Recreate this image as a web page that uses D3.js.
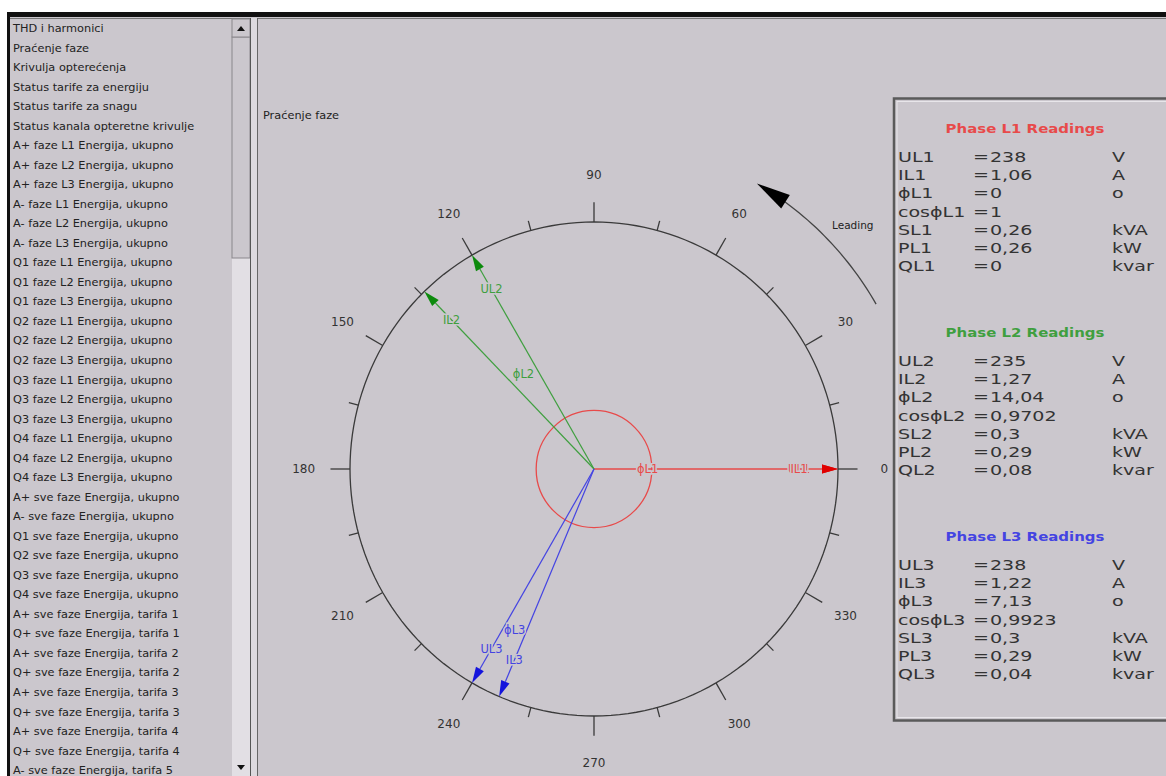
<!DOCTYPE html>
<html>
<head>
<meta charset="utf-8">
<script src="https://cdn.jsdelivr.net/npm/d3@7"></script>
<style>
  body { margin: 0; background: #fff; }
  svg { display: block; }
</style>
</head>
<body>
<svg id="chart" width="1166" height="776"></svg>
<script>
// menu on the left
var menuItems = [
  "THD i harmonici", "Praćenje faze", "Krivulja opterećenja",
  "Status tarife za energiju", "Status tarife za snagu", "Status kanala opteretne krivulje",
  "A+ faze L1 Energija, ukupno", "A+ faze L2 Energija, ukupno", "A+ faze L3 Energija, ukupno",
  "A- faze L1 Energija, ukupno", "A- faze L2 Energija, ukupno", "A- faze L3 Energija, ukupno",
  "Q1 faze L1 Energija, ukupno", "Q1 faze L2 Energija, ukupno", "Q1 faze L3 Energija, ukupno",
  "Q2 faze L1 Energija, ukupno", "Q2 faze L2 Energija, ukupno", "Q2 faze L3 Energija, ukupno",
  "Q3 faze L1 Energija, ukupno", "Q3 faze L2 Energija, ukupno", "Q3 faze L3 Energija, ukupno",
  "Q4 faze L1 Energija, ukupno", "Q4 faze L2 Energija, ukupno", "Q4 faze L3 Energija, ukupno",
  "A+ sve faze Energija, ukupno", "A- sve faze Energija, ukupno",
  "Q1 sve faze Energija, ukupno", "Q2 sve faze Energija, ukupno",
  "Q3 sve faze Energija, ukupno", "Q4 sve faze Energija, ukupno",
  "A+ sve faze Energija, tarifa 1", "Q+ sve faze Energija, tarifa 1",
  "A+ sve faze Energija, tarifa 2", "Q+ sve faze Energija, tarifa 2",
  "A+ sve faze Energija, tarifa 3", "Q+ sve faze Energija, tarifa 3",
  "A+ sve faze Energija, tarifa 4", "Q+ sve faze Energija, tarifa 4",
  "A- sve faze Energija, tarifa 5"
];

// phasor data
var phases = ["L1", "L2", "L3"];
var voltageAngle = [0, 120, 240];
var phiAngle = [0, 14.04, 7.13];
var voltage = [238, 235, 238];
var current = [1.06, 1.27, 1.22];
var cosPhi = [1, 0.9702, 0.9923];
var apparentPower = [0.26, 0.3, 0.3];
var activePower = [0.26, 0.29, 0.29];
var reactivePower = [0, 0.08, 0.04];
var angleLabels = [0, 30, 60, 90, 120, 150, 180, 210, 240, 270, 300, 330];

var phaseColor = ["#e84a4a", "#3f9f3f", "#4444e2"];
var headColor = ["#e00000", "#0c8a0c", "#1414dc"];
var bg = "#cbc7cd";

var svg = d3.select("#chart");
var fmt = function(v) { return String(v).replace(".", ","); };

// ---- window frame ----
svg.append("rect").attr("x", 0).attr("y", 0).attr("width", 1166).attr("height", 776).attr("fill", "#fff");
svg.append("rect").attr("x", 8).attr("y", 12).attr("width", 1158).attr("height", 764).attr("fill", bg);
svg.append("rect").attr("x", 7).attr("y", 12).attr("width", 1159).attr("height", 5).attr("fill", "#111");
svg.append("rect").attr("x", 7).attr("y", 12).attr("width", 3).attr("height", 764).attr("fill", "#111");
svg.append("line").attr("x1", 10).attr("x2", 1166).attr("y1", 18.5).attr("y2", 18.5).attr("stroke", "#777");

// list box
var menu = svg.append("g");
menu.selectAll("text").data(menuItems).enter().append("text")
  .attr("transform", function(d, i) { return "translate(13," + (32 + i * 19.53) + ") scale(1.1,1)"; })
  .style("font-family", "DejaVu Sans, sans-serif")
  .style("font-size", "10.3px")
  .attr("fill", "#222")
  .text(function(d) { return d; });

// scrollbar
svg.append("rect").attr("x", 232).attr("y", 19).attr("width", 18).attr("height", 757).attr("fill", "#e2dfe4");
svg.append("rect").attr("x", 232).attr("y", 37).attr("width", 18).attr("height", 221).attr("fill", bg)
  .attr("stroke", "#8a878c");
svg.append("rect").attr("x", 232).attr("y", 19).attr("width", 18).attr("height", 18).attr("fill", bg)
  .attr("stroke", "#8a878c");
svg.append("path").attr("d", "M237,31 L245,31 L241,26 Z").attr("fill", "#111");
svg.append("path").attr("d", "M237,765 L245,765 L241,770 Z").attr("fill", "#111");
svg.append("line").attr("x1", 250.5).attr("x2", 250.5).attr("y1", 18).attr("y2", 776).attr("stroke", "#555");
svg.append("rect").attr("x", 251).attr("y", 18).attr("width", 6).attr("height", 758).attr("fill", "#dcd9de");
svg.append("line").attr("x1", 257.5).attr("x2", 257.5).attr("y1", 18).attr("y2", 776).attr("stroke", "#666");

svg.append("text").attr("transform", "translate(263,119) scale(1.1,1)")
  .style("font-family", "DejaVu Sans, sans-serif").style("font-size", "10.3px")
  .attr("fill", "#222").text("Praćenje faze");

// ---- phasor diagram ----
var cx = 594, cy = 469;
var x = d3.scaleLinear().domain([-1, 1]).range([cx - 244, cx + 244]);
var y = d3.scaleLinear().domain([-1, 1]).range([cy + 247, cy - 247]);
var rad = function(a) { return a * Math.PI / 180; };
var px = function(a, r) { return x(r * Math.cos(rad(a))); };
var py = function(a, r) { return y(r * Math.sin(rad(a))); };

var plot = svg.append("g");

var ring = d3.line().x(function(a) { return px(a, 1); }).y(function(a) { return py(a, 1); });
plot.append("path").datum(d3.range(0, 361, 2)).attr("d", ring)
  .attr("fill", "none").attr("stroke", "#3a3a3a").attr("stroke-width", 1.3);

// ticks every 15 degrees, labels every 30
var tickAngles = d3.range(0, 360, 15);
plot.selectAll(".tick").data(tickAngles).enter().append("line")
  .attr("x1", function(a) { return px(a, 1); })
  .attr("y1", function(a) { return py(a, 1); })
  .attr("x2", function(a) { return px(a, a % 30 === 0 ? 1.08 : 1.04); })
  .attr("y2", function(a) { return py(a, a % 30 === 0 ? 1.08 : 1.04); })
  .attr("stroke", "#3a3a3a").attr("stroke-width", 1.3);

plot.selectAll(".alabel").data(angleLabels).enter().append("text")
  .attr("x", function(a) { return px(a, 1.19); })
  .attr("y", function(a) { return py(a, 1.19) + 4; })
  .attr("text-anchor", "middle")
  .style("font-family", "DejaVu Sans, sans-serif").style("font-size", "12px")
  .attr("fill", "#333")
  .text(function(d) { return d; });

// leading arrow
var leadArc = d3.range(30, 58.1, 1);
plot.append("path").datum(leadArc)
  .attr("d", d3.line().x(function(a) { return px(a, 1.335); }).y(function(a) { return py(a, 1.335); }))
  .attr("fill", "none").attr("stroke", "#444").attr("stroke-width", 1.3);
(function() {
  var tx = px(60, 1.335), ty = py(60, 1.335);
  var bx = px(55.5, 1.335), by = py(55.5, 1.335);
  var dx = tx - bx, dy = ty - by, len = Math.sqrt(dx * dx + dy * dy);
  var ux = dx / len, uy = dy / len;
  var L = 34, W = 8;
  var b0x = tx - ux * L, b0y = ty - uy * L;
  plot.append("path")
    .attr("d", "M" + tx + "," + ty + " L" + (b0x - uy * W) + "," + (b0y + ux * W) +
      " L" + (b0x + uy * W) + "," + (b0y - ux * W) + " Z")
    .attr("fill", "#000");
})();
plot.append("text").attr("x", 832).attr("y", 229)
  .style("font-family", "DejaVu Sans, sans-serif").style("font-size", "10.5px")
  .attr("fill", "#222").text("Leading");

// L1 phase circle
plot.append("ellipse").attr("cx", cx).attr("cy", cy)
  .attr("rx", x(0.237) - cx).attr("ry", cy - y(0.237))
  .attr("fill", "none").attr("stroke", phaseColor[0]).attr("stroke-width", 1.3);

// vectors: voltage and current per phase
var vectors = [];
phases.forEach(function(p, i) {
  vectors.push({ name: "U" + p, angle: voltageAngle[i], i: i });
  vectors.push({ name: "I" + p, angle: voltageAngle[i] + phiAngle[i], i: i });
});

function drawVector(v) {
  var tx = px(v.angle, 1), ty = py(v.angle, 1);
  var dx = tx - cx, dy = ty - cy, len = Math.sqrt(dx * dx + dy * dy);
  var ux = dx / len, uy = dy / len;
  var L = 16, W = 4.5;
  var bx = tx - ux * L, by = ty - uy * L;
  plot.append("line").attr("x1", cx).attr("y1", cy).attr("x2", bx).attr("y2", by)
    .attr("stroke", phaseColor[v.i]).attr("stroke-width", 1.2);
  plot.append("path")
    .attr("d", "M" + tx + "," + ty + " L" + (bx - uy * W) + "," + (by + ux * W) +
      " L" + (bx + uy * W) + "," + (by - ux * W) + " Z")
    .attr("fill", headColor[v.i]);
}
vectors.forEach(drawVector);

function vecLabel(txt, a, r, i) {
  plot.append("text")
    .attr("x", px(a, r)).attr("y", py(a, r) + 4)
    .attr("text-anchor", "middle")
    .style("font-family", "DejaVu Sans, sans-serif").style("font-size", "11.5px")
    .style("paint-order", "stroke")
    .attr("stroke", bg).attr("stroke-width", 3)
    .attr("fill", phaseColor[i])
    .text(txt);
}
vectors.forEach(function(v) { vecLabel(v.name, v.angle, 0.84, v.i); });
var phiLabelR = [0.22, 0.48, 0.73];
phases.forEach(function(p, i) {
  vecLabel("ϕ" + p, voltageAngle[i] + phiAngle[i] / 2, phiLabelR[i], i);
});

// ---- readings panel ----
var panel = svg.append("g");
panel.append("rect").attr("x", 894).attr("y", 98.5).attr("width", 290).attr("height", 622)
  .attr("fill", "none").attr("stroke", "#5a5a5a").attr("stroke-width", 2.5);
panel.append("rect").attr("x", 897).attr("y", 101.5).attr("width", 290).attr("height", 616)
  .attr("fill", "none").attr("stroke", "#e8e6ea").attr("stroke-width", 1);

var rowNames = ["U", "I", "ϕ", "cosϕ", "S", "P", "Q"];
var units = ["V", "A", "o", "", "kVA", "kW", "kvar"];

phases.forEach(function(p, i) {
  var top = 128 + i * 204;
  var vals = [voltage[i], current[i], phiAngle[i], cosPhi[i], apparentPower[i], activePower[i], reactivePower[i]];
  panel.append("text")
    .attr("transform", "translate(1025," + (top + 5) + ") scale(1.15,1)")
    .attr("text-anchor", "middle")
    .style("font-family", "DejaVu Sans, sans-serif").style("font-size", "13px")
    .style("font-weight", "bold")
    .attr("fill", phaseColor[i])
    .text("Phase " + p + " Readings");
  rowNames.forEach(function(n, k) {
    var yy = top + 34 + k * 18.2;
    var put = function(xx, t) {
      panel.append("text")
        .attr("transform", "translate(" + xx + "," + yy + ") scale(1.36,1)")
        .style("font-family", "DejaVu Sans, sans-serif").style("font-size", "14px")
        .attr("fill", "#333")
        .text(t);
    };
    put(898, n + p);
    put(973, "=");
    put(990, fmt(vals[k]));
    put(1112, units[k]);
  });
});
</script>
</body>
</html>
